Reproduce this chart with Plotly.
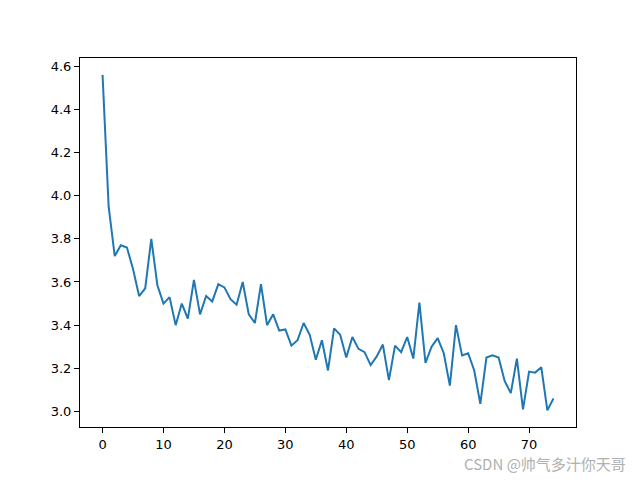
import plotly.graph_objects as go

# loss per epoch
epochs = list(range(75))
loss = [
    4.56, 3.95, 3.72, 3.77, 3.76, 3.66, 3.535, 3.57, 3.80, 3.585,
    3.50, 3.53, 3.40, 3.50, 3.43, 3.61, 3.45, 3.535, 3.51, 3.59,
    3.575, 3.52, 3.495, 3.60, 3.45, 3.41, 3.59, 3.40, 3.45, 3.375,
    3.38, 3.305, 3.33, 3.41, 3.355, 3.24, 3.33, 3.19, 3.385, 3.355,
    3.25, 3.345, 3.29, 3.275, 3.215, 3.255, 3.31, 3.145, 3.305, 3.275,
    3.345, 3.245, 3.505, 3.225, 3.30, 3.34, 3.27, 3.12, 3.40, 3.26,
    3.27, 3.19, 3.035, 3.25, 3.26, 3.25, 3.14, 3.085, 3.245, 3.01,
    3.185, 3.18, 3.205, 3.005, 3.06,
]
x_ticks = [0, 10, 20, 30, 40, 50, 60, 70]
y_ticks = [3.0, 3.2, 3.4, 3.6, 3.8, 4.0, 4.2, 4.4, 4.6]
watermark = "CSDN @帅气多汁你天哥"

fig = go.Figure()
fig.add_trace(go.Scatter(
    x=epochs, y=loss, mode="lines",
    line=dict(color="#1f77b4", width=2),
    showlegend=False,
))

axis_style = dict(
    showgrid=False, zeroline=False,
    showline=True, linecolor="black", linewidth=1, mirror=True,
    ticks="outside", ticklen=5, tickcolor="black",
    tickfont=dict(family="DejaVu Sans", size=13, color="black"),
)
fig.update_xaxes(range=[-3.7, 77.7], tickvals=x_ticks, **axis_style)
fig.update_yaxes(range=[2.928, 4.638], tickvals=y_ticks, tickformat=".1f", **axis_style)

# page body adds an 8px offset, so margins are shifted to compensate
fig.add_annotation(
    text=watermark, xref="paper", yref="paper", x=1.105, y=-0.098,
    xanchor="right", yanchor="middle", showarrow=False,
    font=dict(family="Noto Sans CJK SC", size=15, color="#b0b0b0"),
)

fig.update_layout(
    width=640, height=480,
    margin=dict(l=72, r=72, t=50, b=61),
    paper_bgcolor="white", plot_bgcolor="white",
)
fig.write_html("out.html")
